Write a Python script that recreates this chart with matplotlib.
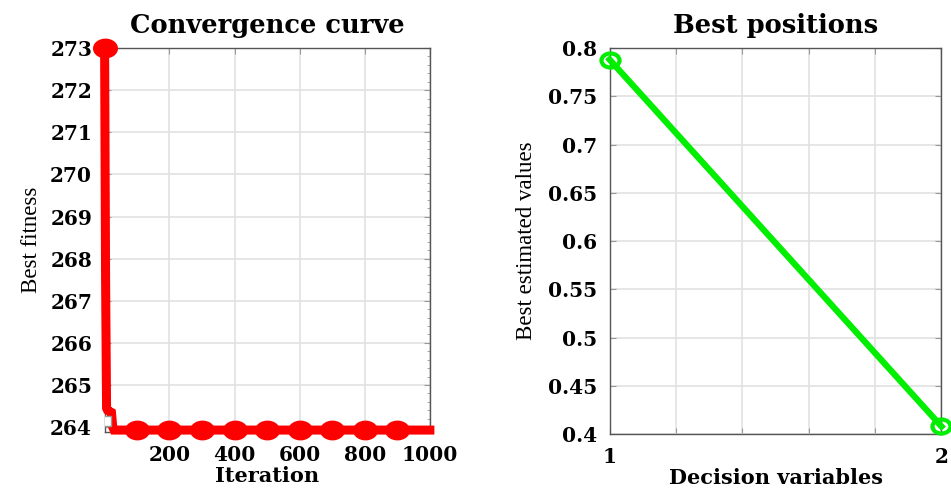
import numpy as np
import matplotlib
matplotlib.use('Agg')
import matplotlib.pyplot as plt
from matplotlib.path import Path
from matplotlib.transforms import Affine2D
from matplotlib.ticker import AutoMinorLocator

# convergence curve (iteration, best fitness)
iterations = [1, 4, 7, 10, 22, 26, 30, 100, 200, 300, 400, 500, 600, 700, 800, 900, 1000]
fitness = [273.0, 267.5, 264.45, 264.4, 264.35, 264.0, 263.93, 263.93, 263.93, 263.93,
           263.93, 263.93, 263.93, 263.93, 263.93, 263.93, 263.93]
conv_xticks = [200, 400, 600, 800, 1000]
conv_yticks = [264, 265, 266, 267, 268, 269, 270, 271, 272, 273]

# best positions
variables = [1, 2]
best_values = [0.788, 0.408]
pos_yticks = [0.4, 0.45, 0.5, 0.55, 0.6, 0.65, 0.7, 0.75, 0.8]
pos_yticklabels = ['0.4', '0.45', '0.5', '0.55', '0.6', '0.65', '0.7', '0.75', '0.8']

bold_font = ['DejaVu Serif']
plain_font = ['Liberation Serif', 'DejaVu Serif']

# slightly wide circle, like the stretched markers in the picture
ellipse = Path.unit_circle().transformed(Affine2D().scale(1.0, 0.78))

fig = plt.figure(figsize=(9.51, 4.90), dpi=100)
ax1 = fig.add_axes([0.110, 0.118, 0.342, 0.784])
ax2 = fig.add_axes([0.641, 0.114, 0.349, 0.788])

for ax in (ax1, ax2):
    ax.grid(True, color='#e2e2e2', linewidth=1.2)
    ax.set_axisbelow(True)
    for s in ax.spines.values():
        s.set_color('#555555')
        s.set_linewidth(1.0)
    ax.tick_params(direction='in', length=4, color='#999999', right=True, top=True, pad=9)

# left: convergence curve
ax1.plot(iterations, fitness, color='red', linewidth=6.5, solid_joinstyle='miter',
         marker=ellipse, markersize=17, markevery=[0, 7, 8, 9, 10, 11, 12, 13, 14, 15],
         clip_on=False, zorder=3)
ax1.plot([iterations[1]], [264.15], marker='s', markersize=7, markerfacecolor='white',
         markeredgecolor='#999999', linestyle='none', zorder=4)
ax1.set_xlim(1, 1000)
ax1.set_ylim(263.88, 273)
ax1.set_xticks(conv_xticks)
ax1.set_yticks(conv_yticks)
ax1.set_xticklabels([str(t) for t in conv_xticks], fontweight='bold', fontsize=14.5, family=bold_font)
ax1.set_yticklabels([str(t) for t in conv_yticks], fontweight='bold', fontsize=14.5, family=bold_font)
ax1.yaxis.set_minor_locator(AutoMinorLocator(5))
ax1.tick_params(which='minor', direction='in', length=2, color='#999999', right=True, left=False)
ax1.set_title('Convergence curve', fontsize=18.5, fontweight='bold', family=bold_font, pad=11)
ax1.set_xlabel('Iteration', fontsize=15, fontweight='bold', family=bold_font, labelpad=1)
ax1.set_ylabel('Best fitness', fontsize=16.5, family=plain_font, labelpad=6)

# right: best positions
ax2.plot(variables, best_values, color='#00ee00', linewidth=4.5, marker=ellipse, markersize=13,
         markerfacecolor='none', markeredgewidth=3, clip_on=False, zorder=3)
ax2.set_xlim(1, 2)
ax2.set_ylim(0.4, 0.8)
ax2.set_xticks([1, 1.2, 1.4, 1.6, 1.8, 2])
ax2.set_xticklabels(['1', '', '', '', '', '2'], fontweight='bold', fontsize=14.5, family=bold_font)
ax2.set_yticks(pos_yticks)
ax2.set_yticklabels(pos_yticklabels, fontweight='bold', fontsize=14.5, family=bold_font)
ax2.set_title('Best positions', fontsize=18.5, fontweight='bold', family=bold_font, pad=11)
ax2.set_xlabel('Decision variables', fontsize=15, fontweight='bold', family=bold_font, labelpad=1)
ax2.set_ylabel('Best estimated values', fontsize=16.5, family=plain_font, labelpad=8)

fig.savefig('out.png', dpi=100)
